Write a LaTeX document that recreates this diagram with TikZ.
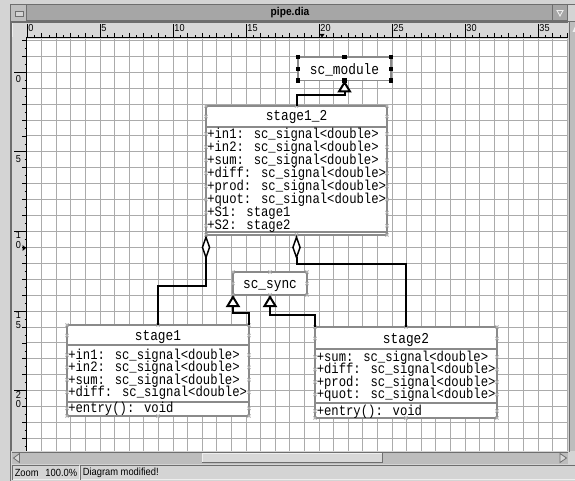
\documentclass[tikz,border=0pt]{standalone}
\usepackage{fontspec}
\setmainfont[FakeStretch=0.9]{Liberation Sans}
\newfontfamily\umlmono[FakeStretch=0.85]{Liberation Mono}
\newfontfamily\uisans[FakeStretch=0.9]{Liberation Sans}
\usetikzlibrary{arrows.meta,calc,fit}
\definecolor{winbg}{HTML}{D4D4D4}
\definecolor{titlebg}{HTML}{A6A6A6}
\definecolor{framec}{HTML}{6E6E6E}
\definecolor{lightc}{HTML}{EEEEEE}
\definecolor{gridc}{HTML}{ABABAB}
\definecolor{boxc}{HTML}{8A8A8A}
\definecolor{cpc}{HTML}{B0B0B0}
\definecolor{troughc}{HTML}{BDBDBD}
\definecolor{rulerbg}{HTML}{D8D8D8}
\newcommand\cpx[1]{\draw[cpmark] (#1) +(-1.6,-1.6) -- +(1.6,1.6) +(-1.6,1.6) -- +(1.6,-1.6);}
\begin{document}
\begin{tikzpicture}[x=0.75pt,y=-0.75pt,
  gridline/.style={gridc, line width=0.75pt},
  tick/.style={black, line width=0.6pt},
  umlbox/.style={draw=boxc, line width=1.4pt, fill=white, inner sep=0pt, outer sep=0pt},
  sepline/.style={boxc, line width=1.4pt},
  conn/.style={black, line width=1.5pt},
  attr/.style={font=\umlmono\fontsize{10.8}{12}\selectfont, inner sep=0pt, anchor=base west},
  cname/.style={font=\umlmono\fontsize{11.3}{12}\selectfont, inner sep=0pt, anchor=base},
  gen/.style={conn, -{Triangle[open, fill=white, length=9pt, width=10.5pt]}},
  agg/.style={conn, {Diamond[open, fill=white, length=18.5pt, width=6.5pt, line width=1.1pt]}-},
  rlabel/.style={font=\uisans\fontsize{7.6}{8}\selectfont, inner sep=0pt},
  stat/.style={font=\uisans\fontsize{7.8}{8}\selectfont, inner sep=0pt},
  cpmark/.style={cpc, line width=0.6pt},
]
\useasboundingbox (0,0) rectangle (575,481);
\fill[winbg] (0,0) rectangle (575,481);
% window frame
\draw[framec, line width=1pt] (10.5,4) -- (10.5,481);
% title bar
\fill[titlebg] (11,5) rectangle (575,21);
\draw[framec, line width=0.8pt] (10.5,4.5) -- (575,4.5);
\draw[framec, line width=0.8pt] (11,21) -- (575,21);
\fill[winbg!90!black] (11,5) rectangle (26,21);
\draw[framec, line width=0.8pt] (26.5,5) -- (26.5,21);
\draw[framec, line width=0.6pt, fill=winbg] (15,11.5) rectangle (23,16);
\node[font=\uisans\bfseries\fontsize{8.5}{9}\selectfont, inner sep=0pt] (ttl) at (290,12.5) {pipe.dia};
\draw[framec, line width=0.8pt] (552.5,5) -- (552.5,21);
\draw[framec, line width=0.8pt] (567.5,5) -- (567.5,21);
\draw[lightc, line width=0.7pt] (557,10.5) -- (563,10.5) -- (560,16) -- cycle;
\fill[winbg] (568,5) rectangle (575,21);
% rulers background
\fill[rulerbg] (12,22) rectangle (568,38);
\fill[rulerbg] (12,38) rectangle (27,451);
\draw[lightc, line width=0.6pt] (12.5,37) -- (12.5,22.5) -- (26,22.5);
\draw[framec, line width=0.6pt] (12,22) -- (568,22);
\draw[framec, line width=0.6pt] (11.5,22) -- (11.5,451);
% canvas
\fill[white] (27,39) rectangle (568,451);
\begin{scope}
\clip (27,39) rectangle (568,451);
\foreach \u in {1,...,37}{
  \pgfmathsetmacro{\xx}{27+14.6*\u}
  \draw[gridline] (\xx,39) -- (\xx,451);
}
\foreach \v in {-2,...,23}{
  \pgfmathsetmacro{\yy}{72.3+15.92*\v}
  \draw[gridline] (27,\yy) -- (568,\yy);
}
\end{scope}
% horizontal ruler
\foreach \u in {0,...,37}{
  \pgfmathsetmacro{\xx}{27+14.6*\u}
  \draw[tick] (\xx,33) -- (\xx,38);
}
\foreach \u in {0,...,36}{
  \pgfmathsetmacro{\xx}{27+14.6*\u+7.3}
  \draw[tick] (\xx,35.5) -- (\xx,38);
}
\foreach \u in {0,5,...,35}{
  \pgfmathsetmacro{\xx}{27+14.6*\u}
  \draw[tick] (\xx,24) -- (\xx,38);
  \node[rlabel, anchor=north west] (hl\u) at (\xx+1.2,24.5) {\u};
}
\draw[black, line width=1.1pt] (26,37.6) -- (568,37.6);
\fill[black] (319.5,34) -- (324.5,34) -- (322,37.5) -- cycle;
% vertical ruler
\foreach \v in {-2,...,23}{
  \pgfmathsetmacro{\yy}{72.3+15.92*\v}
  \draw[tick] (22,\yy) -- (27,\yy);
  \draw[tick] (24.5,\yy+7.96) -- (27,\yy+7.96);
}
\foreach \v in {0,5}{
  \pgfmathsetmacro{\yy}{72.3+15.92*\v}
  \draw[tick] (14,\yy) -- (27,\yy);
  \node[rlabel, anchor=north west] (vl\v) at (15.5,\yy+3) {\v};
}
\foreach \v/\a/\b in {10/1/0,15/1/5,20/2/0}{
  \pgfmathsetmacro{\yy}{72.3+15.92*\v}
  \draw[tick] (14,\yy) -- (27,\yy);
  \node[rlabel, anchor=north west] (vla\v) at (15.5,\yy+0.2) {\a};
  \node[rlabel, anchor=north west] (vlb\v) at (15.5,\yy+9.8) {\b};
}
\draw[black, line width=1.1pt] (26.4,37) -- (26.4,451);
\fill[black] (22.5,245) -- (26,248) -- (22.5,251) -- cycle;
% right scrollbar
\draw[framec, line width=1pt] (569.2,22) -- (569.2,452);
\fill[troughc] (570,22) rectangle (575,451);
\fill[lightc] (575,26.5) -- (572.5,32) -- (575,32) -- cycle;
% horizontal scrollbar
\fill[troughc] (12,452) rectangle (568,463.5);
\draw[framec, line width=0.6pt] (12,452) -- (568,452);
\draw[lightc, line width=0.6pt, fill=rulerbg] (202,453.2) rectangle (382,462.5);
\draw[framec, line width=0.6pt] (202,462.5) -- (382,462.5) -- (382,453.2);
\draw[framec, line width=0.6pt, fill=rulerbg] (19.5,453.5) -- (13.5,458) -- (19.5,462.5) -- cycle;
\draw[framec, line width=0.6pt, fill=rulerbg] (560,453.5) -- (566.5,458) -- (560,462.5) -- cycle;
% status bar
\draw[framec, line width=0.6pt] (12.5,479.5) -- (12.5,465.5) -- (79,465.5);
\draw[lightc, line width=0.6pt] (79,465.5) -- (79,479.5) -- (12.5,479.5);
\draw[framec, line width=0.6pt] (80.5,479.5) -- (80.5,465.5) -- (575,465.5);
\draw[lightc, line width=0.6pt] (80.5,479.5) -- (575,479.5);
\node[stat, anchor=west] (zl) at (14.5,472.5) {Zoom};
\node[stat, anchor=east] (zv) at (77.5,472.5) {100.0\%};
\node[stat, anchor=west] (dm) at (82.5,472.5) {Diagram modified!};

% ===== UML diagram =====
% sc_module (selected)
\coordinate (scmA) at (298,57); \coordinate (scmB) at (391,80.5);
\node[umlbox, line width=0.8pt, fit=(scmA)(scmB)] (scm) {};
\node[cname] (scmT) at (344.5,74.2) {sc\_module};
% stage1_2
\coordinate (s12A) at (206,106); \coordinate (s12B) at (387,235);
\node[umlbox, fit=(s12A)(s12B)] (s12) {};
\draw[sepline] (206,127) -- (387,127);
\draw[sepline] (206,231.8) -- (387,231.8);
\node[cname] (s12T) at (296.5,121) {stage1\_2};
\node[attr] (s12a1) at (207,138.2) {+in1: sc\_signal<double>};
\node[attr] (s12a2) at (207,151.3) {+in2: sc\_signal<double>};
\node[attr] (s12a3) at (207,164.4) {+sum: sc\_signal<double>};
\node[attr] (s12a4) at (207,177.5) {+diff: sc\_signal<double>};
\node[attr] (s12a5) at (207,190.6) {+prod: sc\_signal<double>};
\node[attr] (s12a6) at (207,203.7) {+quot: sc\_signal<double>};
\node[attr] (s12a7) at (207,216.8) {+S1: stage1};
\node[attr] (s12a8) at (207,229.9) {+S2: stage2};
% sc_sync
\coordinate (syA) at (233,272); \coordinate (syB) at (307,295);
\node[umlbox, fit=(syA)(syB)] (sync) {};
\node[cname] (syT) at (270,288) {sc\_sync};
% stage1
\coordinate (s1A) at (67,325); \coordinate (s1B) at (249,416);
\node[umlbox, fit=(s1A)(s1B)] (s1) {};
\draw[sepline] (67,345) -- (249,345);
\draw[sepline] (67,402) -- (249,402);
\node[cname] (s1T) at (158,340) {stage1};
\node[attr] (s1a1) at (68,359.2) {+in1: sc\_signal<double>};
\node[attr] (s1a2) at (68,371.6) {+in2: sc\_signal<double>};
\node[attr] (s1a3) at (68,384) {+sum: sc\_signal<double>};
\node[attr] (s1a4) at (68,396.4) {+diff: sc\_signal<double>};
\node[attr] (s1o1) at (68,412.5) {+entry(): void};
% stage2
\coordinate (s2A) at (315,327); \coordinate (s2B) at (497,418);
\node[umlbox, fit=(s2A)(s2B)] (s2) {};
\draw[sepline] (315,349) -- (497,349);
\draw[sepline] (315,403) -- (497,403);
\node[cname] (s2T) at (406,343) {stage2};
\node[attr] (s2a1) at (316.5,361.2) {+sum: sc\_signal<double>};
\node[attr] (s2a2) at (316.5,373.7) {+diff: sc\_signal<double>};
\node[attr] (s2a3) at (316.5,386.2) {+prod: sc\_signal<double>};
\node[attr] (s2a4) at (316.5,398.7) {+quot: sc\_signal<double>};
\node[attr] (s2o1) at (316.5,415.2) {+entry(): void};
% connection points
\foreach \a in {north west,north,north east,south west,south,south east}{
  \cpx{s12.\a} \cpx{s1.\a} \cpx{s2.\a} \cpx{sync.\a}
}
\cpx{sync.west} \cpx{sync.east}
\foreach \yy in {116.5,134,147.1,160.2,173.3,186.4,199.5,212.6,225.7}{\cpx{206,\yy} \cpx{387,\yy}}
\foreach \yy in {335.5,355,367.4,379.8,392.2,408.3}{\cpx{67,\yy} \cpx{249,\yy}}
\foreach \yy in {338.5,357,369.5,382,394.5,411}{\cpx{315,\yy} \cpx{497,\yy}}
% connectors
\draw[gen] (s12.north) |- ($(scm.south)+(0,15)$) -- (scm.south);
\draw[gen] (s1.north east) |- ($(sync.south west)+(0,18)$) -- (sync.south west);
\draw[gen] (s2.north west) |- ($(sync.south)+(0,20)$) -- (sync.south);
\draw[agg] (s12.south west) |- ($(s1.north)+(0,-39)$) -- (s1.north);
\draw[agg] (s12.south) |- ($(s2.north)+(0,-63)$) -- (s2.north);
% selection handles
\foreach \a in {north west,north,north east,west,east,south west,south,south east}{
  \fill[black] (scm.\a) +(-2.2,-2.2) rectangle +(2.2,2.2);
}
\end{tikzpicture}
\end{document}
